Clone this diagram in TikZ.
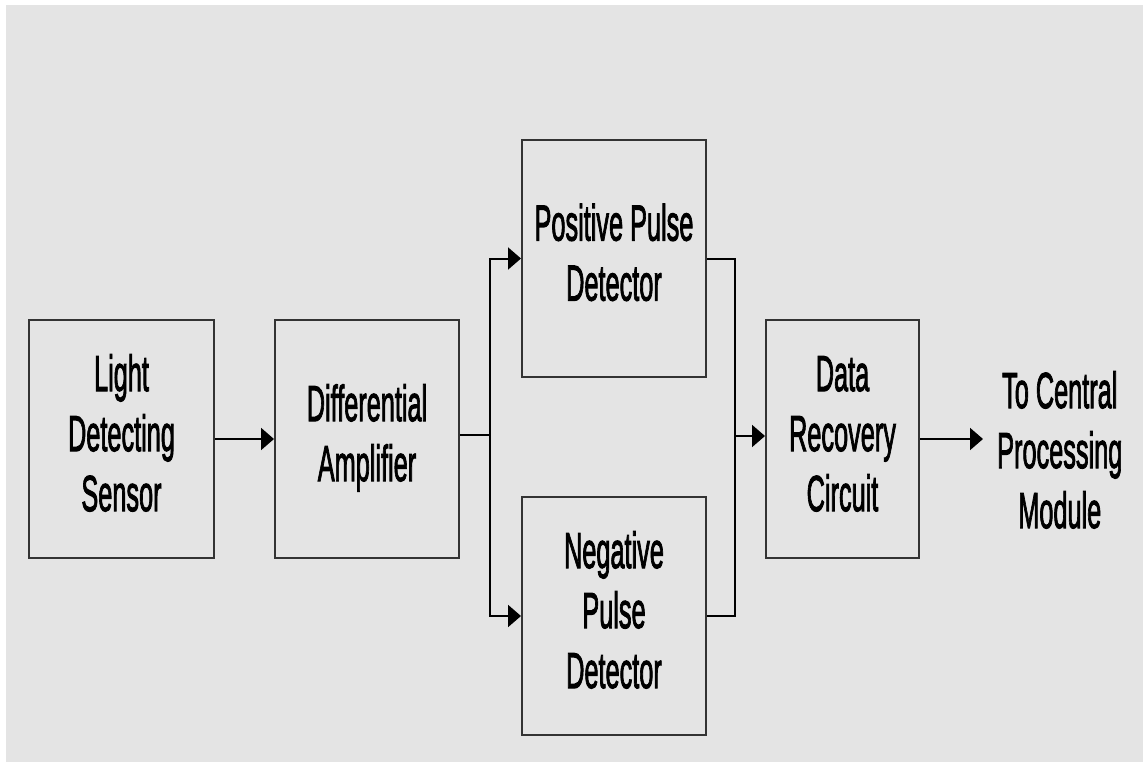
\documentclass[tikz,border=0pt]{standalone}
\usepackage{fontspec}
\setmainfont{Liberation Sans}
\newfontfamily\lblfont{Liberation Sans}[FakeBold=2.5]
\usepackage{graphicx}
\usetikzlibrary{arrows.meta}
\newcommand{\tallbl}[1]{\scalebox{1}[2]{\begin{tabular}{@{}c@{}}#1\end{tabular}}}
\definecolor{bggray}{HTML}{E4E4E4}
\definecolor{boxline}{HTML}{333333}
\begin{document}
\begin{tikzpicture}[x=1pt,y=-1pt,
  blockbox/.style={draw=boxline, line width=2pt, inner sep=0pt, align=center,
    font=\lblfont\fontsize{25.3}{30}\selectfont},
  conn/.style={draw=black, line width=2pt},
  arr/.style={conn, -{Triangle[length=13pt,width=22pt]}},
  plainlbl/.style={inner sep=0pt, inner xsep=14pt, font=\lblfont\fontsize{25.3}{30}\selectfont}]
\useasboundingbox (0,0) rectangle (1143,762);
\fill[white] (0,0) rectangle (1143,762);
\fill[bggray] (6,5) rectangle (1143,762);

\node[blockbox, minimum width=185pt, minimum height=238pt] (sensor) at (121.5,439) {\tallbl{Light\\Detecting\\Sensor}};
\node[blockbox, minimum width=184pt, minimum height=238pt] (amp) at (367,439) {\tallbl{Differential\\Amplifier}};
\node[blockbox, minimum width=184pt, minimum height=237pt] (pos) at (614,258.5) {\raisebox{-4pt}{\tallbl{Positive Pulse\\Detector}}};
\node[blockbox, minimum width=184pt, minimum height=238pt] (neg) at (614,616) {\tallbl{Negative\\Pulse\\Detector}};
\node[blockbox, minimum width=153pt, minimum height=238pt] (data) at (842.5,439) {\tallbl{Data\\Recovery\\Circuit}};
\node[plainlbl, anchor=west] (out) at (983,456) {\tallbl{To Central\\Processing\\Module}};

\coordinate (j1) at (490,435);
\coordinate (j2) at (735,436);

\draw[arr] (sensor.east) -- (amp.west);
\draw[conn] (amp.east |- j1) -- (j1);
\draw[arr] (j1) |- (pos.west);
\draw[arr] (j1) |- (neg.west);
\draw[conn] (pos.east) -| (j2);
\draw[conn] (neg.east) -| (j2);
\draw[arr] (j2) -- (data.west |- j2);
\draw[arr] (data.east) -- (out.west |- data.east);
\end{tikzpicture}
\end{document}
